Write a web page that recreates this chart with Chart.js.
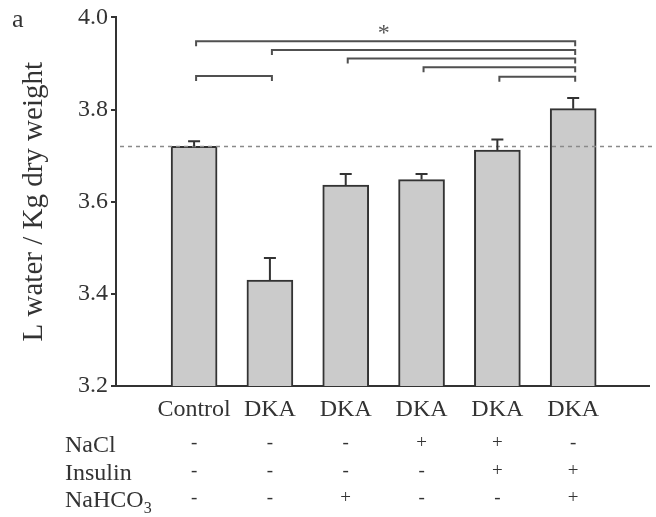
<!DOCTYPE html>
<html>
<head>
<meta charset="utf-8">
<style>
  html, body { margin: 0; padding: 0; background: #fff; }
  #wrap { width: 656px; height: 517px; position: relative; }
</style>
<script src="https://cdn.jsdelivr.net/npm/chart.js@4/dist/chart.umd.min.js"></script>
</head>
<body>
<div id="wrap"><canvas id="c" width="656" height="517"></canvas></div>
<script>
// ---- data ----
const categories = ['Control', 'DKA', 'DKA', 'DKA', 'DKA', 'DKA'];
const waterValues = [3.72, 3.43, 3.636, 3.648, 3.712, 3.802];
const waterErrors = [0.011, 0.048, 0.024, 0.012, 0.023, 0.023];
const naclRow = ['-', '-', '-', '+', '+', '-'];
const insulinRow = ['-', '-', '-', '-', '+', '+'];
const bicarbRow = ['-', '-', '+', '-', '-', '+'];
const yTicks = [3.2, 3.4, 3.6, 3.8, 4.0];
const controlReference = 3.72;
const bracketFrom = [0, 1, 2, 3, 4, 0];
const bracketTo = [5, 5, 5, 5, 5, 1];
const bracketLevel = [3.948, 3.9295, 3.911, 3.892, 3.871, 3.873];

// ---- styles ----
const SERIF = '"Liberation Serif", "DejaVu Serif", serif';
const INK = '#333333';

const extras = {
  id: 'extras',
  afterDatasetsDraw(chart) {
    const ctx = chart.ctx;
    const xs = chart.scales.x, ys = chart.scales.y;
    const area = chart.chartArea;
    ctx.save();
    // dashed reference line
    ctx.strokeStyle = '#8a8a8a';
    ctx.lineWidth = 1.5;
    ctx.setLineDash([4, 4]);
    const ry = Math.round(ys.getPixelForValue(controlReference)) + 0.5;
    ctx.beginPath();
    ctx.moveTo(area.left + 4, ry);
    ctx.lineTo(chart.width, ry);
    ctx.stroke();
    ctx.setLineDash([]);

    // error bars (upper only)
    ctx.strokeStyle = INK;
    ctx.lineWidth = 2;
    waterValues.forEach((v, i) => {
      const x = xs.getPixelForValue(i);
      const y0 = ys.getPixelForValue(v);
      const y1 = ys.getPixelForValue(v + waterErrors[i]);
      ctx.beginPath();
      ctx.moveTo(x, y0);
      ctx.lineTo(x, y1);
      ctx.moveTo(x - 6, y1);
      ctx.lineTo(x + 6, y1);
      ctx.stroke();
    });

    // significance brackets
    ctx.strokeStyle = '#505050';
    ctx.lineWidth = 2;
    bracketFrom.forEach((a, k) => {
      const xa = xs.getPixelForValue(a) + 2;
      const xb = xs.getPixelForValue(bracketTo[k]) + 2;
      const y = ys.getPixelForValue(bracketLevel[k]);
      ctx.beginPath();
      ctx.moveTo(xa, y + 5);
      ctx.lineTo(xa, y);
      ctx.lineTo(xb, y);
      ctx.lineTo(xb, y + 5);
      ctx.stroke();
    });
    // asterisk
    ctx.fillStyle = '#555';
    ctx.font = '24px ' + SERIF;
    ctx.textAlign = 'center';
    ctx.textBaseline = 'alphabetic';
    ctx.fillText('*', xs.getPixelForValue(2.5), ys.getPixelForValue(3.948) - 1);

    // panel letter
    ctx.fillStyle = INK;
    ctx.font = '26px ' + SERIF;
    ctx.textAlign = 'left';
    ctx.fillText('a', 12, 27);

    // treatment table
    const rows = [
      { label: 'NaCl', signs: naclRow, base: 452, mid: 443 },
      { label: 'Insulin', signs: insulinRow, base: 480, mid: 471 },
      { label: 'NaHCO', sub: '3', signs: bicarbRow, base: 507, mid: 498 }
    ];
    rows.forEach(r => {
      ctx.font = '24px ' + SERIF;
      ctx.textAlign = 'left';
      ctx.textBaseline = 'alphabetic';
      ctx.fillStyle = INK;
      ctx.fillText(r.label, 65, r.base);
      if (r.sub) {
        const w = ctx.measureText(r.label).width;
        ctx.font = '16px ' + SERIF;
        ctx.fillText(r.sub, 65 + w, r.base + 6);
      }
      ctx.font = '19px ' + SERIF;
      ctx.textAlign = 'center';
      ctx.textBaseline = 'middle';
      r.signs.forEach((s, i) => {
        ctx.fillText(s, xs.getPixelForValue(i), r.mid);
      });
    });
    ctx.restore();
  }
};

new Chart(document.getElementById('c'), {
  type: 'bar',
  data: {
    datasets: [{
      data: waterValues.map((v, i) => ({ x: i, y: v })),
      backgroundColor: '#cbcbcb',
      borderColor: INK,
      borderWidth: 2,
      barThickness: 46
    }]
  },
  options: {
    responsive: false,
    animation: false,
    devicePixelRatio: 1,
    layout: { padding: { left: 0, top: 15, right: 7, bottom: 0 } },
    plugins: { legend: { display: false }, tooltip: { enabled: false } },
    scales: {
      x: {
        type: 'linear',
        offset: false,
        min: -1.03,
        max: 6.0,
        grid: { display: false, offset: false },
        border: { display: true, color: INK, width: 2 },
        afterBuildTicks: (s) => { s.ticks = categories.map((_, i) => ({ value: i })); },
        afterFit: (s) => { s.height = 131; },
        ticks: {
          autoSkip: false,
          maxRotation: 0,
          padding: 1,
          color: INK,
          font: { family: SERIF, size: 24 },
          callback: (v) => categories[v] ?? ''
        }
      },
      y: {
        min: 3.2,
        max: 4.0,
        afterBuildTicks: (s) => { s.ticks = yTicks.map(v => ({ value: v })); },
        afterFit: (s) => { s.width = 116; },
        grid: { drawOnChartArea: false, drawTicks: true, tickLength: 5, color: INK, lineWidth: 2 },
        border: { display: true, color: INK, width: 2 },
        ticks: {
          padding: 3,
          color: INK,
          font: { family: SERIF, size: 24 },
          callback: (v) => Number(v).toFixed(1)
        },
        title: {
          display: true,
          text: 'L water / Kg dry weight',
          color: INK,
          font: { family: SERIF, size: 29 },
          padding: { top: 17, bottom: 0 }
        }
      }
    }
  },
  plugins: [extras]
});
</script>
</body>
</html>
